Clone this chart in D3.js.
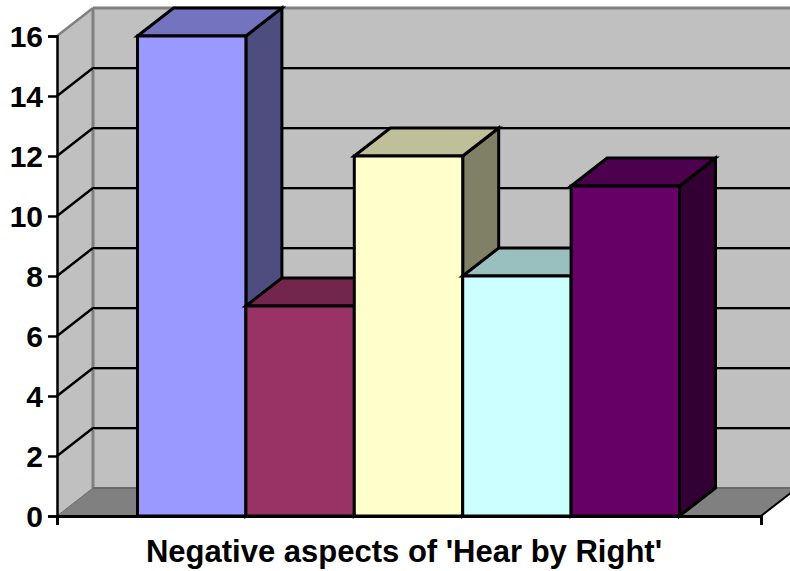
<!DOCTYPE html>
<html><head><meta charset="utf-8">
<script src="https://cdn.jsdelivr.net/npm/d3@7"></script>
<style>html,body{margin:0;padding:0;background:#fff;overflow:hidden}svg{display:block}
text{font-family:"Liberation Sans",Arial,sans-serif;font-weight:bold;fill:#000}</style>
</head><body><svg id="c" width="790" height="571"></svg>
<script>
const categories = ["Negative aspects of 'Hear by Right'"];
const seriesNames = ["A","B","C","D","E"];
const seriesValues = [16,7,12,8,11];
const seriesColors = ["#9999FF","#993366","#FFFFCC","#CCFFFF","#660066"];
const yTicks = [0,2,4,6,8,10,12,14,16];

const W=790,H=571;
const frontLeft=57, frontRight=761, base=516, top16=36;
const dx=36, dy=-28;
const svg=d3.select("#c");
const y=d3.scaleLinear().domain([0,16]).range([base,top16]);
const xCat=d3.scaleBand().domain(categories).range([frontLeft,frontRight]);
const xSer=d3.scaleBand().domain(seriesNames).range([frontLeft+80.5,frontRight-81.5]);
const poly=(pts,fill,stroke,sw)=>svg.append("polygon").attr("points",pts.map(p=>p.join(",")).join(" "))
  .attr("fill",fill).attr("stroke",stroke||"none").attr("stroke-width",sw||0).attr("stroke-linejoin","miter");
const line=(a,b,stroke,sw)=>svg.append("line").attr("x1",a[0]).attr("y1",a[1]).attr("x2",b[0]).attr("y2",b[1])
  .attr("stroke",stroke).attr("stroke-width",sw);

const yT=y(16), yB=y(0);
poly([[frontLeft+dx,yT+dy],[W+dx,yT+dy],[W+dx,yB+dy],[frontLeft+dx,yB+dy]],"#C0C0C0");
poly([[frontLeft,yT],[frontLeft+dx,yT+dy],[frontLeft+dx,yB+dy],[frontLeft,yB]],"#C0C0C0");
poly([[frontLeft,yB],[frontLeft+dx,yB+dy],[frontRight+dx,yB+dy],[frontRight,yB]],"#808080");
line([frontLeft,yT],[frontLeft+dx,yT+dy],"#808080",2.5);
line([frontLeft+dx,yT+dy],[W,yT+dy],"#808080",3);
line([frontLeft+dx,yT+dy],[frontLeft+dx,yB+dy],"#808080",3);
line([frontLeft,yB],[frontLeft+dx,yB+dy],"#6a6a6a",1);
line([frontLeft+dx,yB+dy],[W,yB+dy],"#6a6a6a",2);
yTicks.filter(t=>t>0&&t<16).forEach(t=>{
  line([frontLeft,y(t)],[frontLeft+dx,y(t)+dy],"#000",2.5);
  line([frontLeft+dx,y(t)+dy+1],[W,y(t)+dy+1],"#808080",2);
  line([frontLeft+dx,y(t)+dy],[W,y(t)+dy],"#000",2);
});
line([frontRight,yB],[frontRight+dx,yB+dy],"#000",2);

const darken=(c,k)=>{const r=d3.rgb(c);return d3.rgb(r.r*k,r.g*k,r.b*k).formatHex();};
const bw=xSer.bandwidth();
seriesNames.forEach((s,i)=>{
  const x0=xSer(s), x1=x0+bw, yt=y(seriesValues[i]), c=seriesColors[i];
  const st="#000", w=3;
  poly([[x1,yt],[x1+dx,yt+dy],[x1+dx,yB+dy],[x1,yB]],darken(c,0.5),st,w);
  poly([[x0,yt],[x0+dx,yt+dy],[x1+dx,yt+dy],[x1,yt]],darken(c,0.75),st,w);
  poly([[x0,yt],[x1,yt],[x1,yB],[x0,yB]],c,st,w);
});

const yAxis=d3.axisLeft(y).tickValues(yTicks).tickFormat(d3.format("d")).tickSize(9).tickPadding(5);
const gy=svg.append("g").attr("transform",`translate(${frontLeft},0)`).call(yAxis);
gy.selectAll("path,line").attr("stroke","#000").attr("stroke-width",2.5);
gy.selectAll("text").attr("y",1).style("font-size","30px").style("font-family",'"Liberation Sans",Arial,sans-serif').style("font-weight","bold").attr("fill","#000");
const xAxis=d3.axisBottom(d3.scaleLinear().domain([0,1]).range([frontLeft,frontRight])).tickValues([0,1]).tickFormat("").tickSize(9).tickSizeOuter(0);
const gx=svg.append("g").attr("transform",`translate(0,${base})`).call(xAxis);
gx.selectAll("path,line").attr("stroke","#000").attr("stroke-width",3);

svg.append("text").attr("x",xCat(categories[0])+xCat.bandwidth()/2-5).attr("y",562)
  .attr("text-anchor","middle").style("font-size","31px").text(categories[0]);
</script></body></html>
